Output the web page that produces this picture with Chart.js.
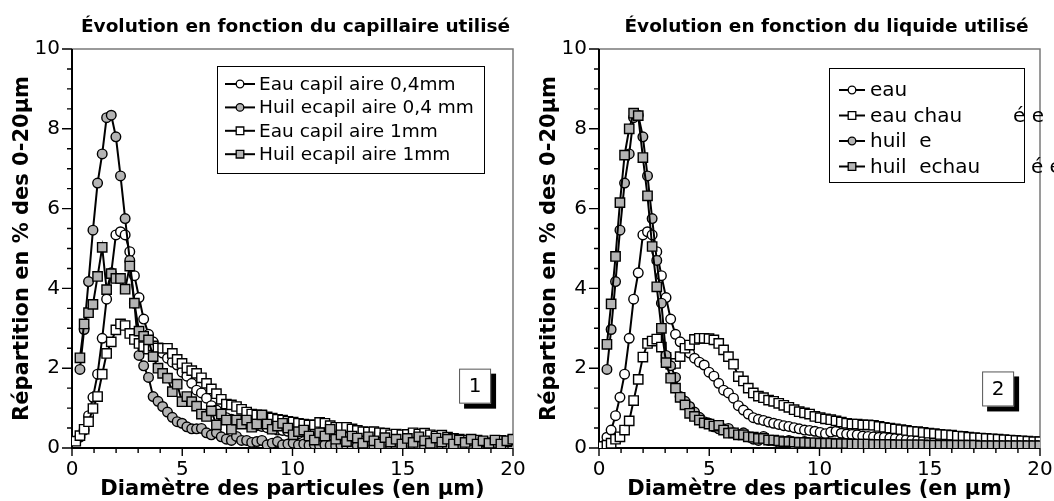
<!DOCTYPE html>
<html lang="fr">
<head>
    <meta charset="UTF-8">
    <meta name="viewport" content="width=device-width, initial-scale=1.0">
    <title>Répartition granulométrique</title>
    <style>
        body { margin: 0; background: #fff; }
        #app { display: flex; width: 1054px; height: 501px; }
        .chart { position: relative; width: 527px; height: 501px; }
    </style>
</head>
<body>
    <div id="app">
        <div class="chart"><canvas id="chart_capillaire"></canvas></div>
        <div class="chart"><canvas id="chart_liquide"></canvas></div>
    </div>

    <script src="https://cdn.jsdelivr.net/npm/chart.js"></script>

    <script>
        // classes de diamètre (µm), communes à toutes les mesures
        const diametres = [
            0.17, 0.36, 0.55, 0.75, 0.95, 1.16, 1.37, 1.57, 1.78, 1.99,
            2.2, 2.41, 2.62, 2.83, 3.04, 3.25, 3.47, 3.68, 3.9, 4.11,
            4.33, 4.55, 4.77, 4.99, 5.21, 5.43, 5.65, 5.87, 6.1, 6.32,
            6.55, 6.77, 7.0, 7.23, 7.46, 7.69, 7.92, 8.15, 8.38, 8.61,
            8.85, 9.08, 9.32, 9.55, 9.79, 10.03, 10.27, 10.51, 10.75, 10.99,
            11.23, 11.47, 11.71, 11.96, 12.2, 12.45, 12.7, 12.94, 13.19, 13.44,
            13.69, 13.94, 14.19, 14.45, 14.7, 14.96, 15.21, 15.47, 15.73, 15.99,
            16.25, 16.51, 16.77, 17.03, 17.3, 17.56, 17.83, 18.1, 18.37, 18.64,
            18.91, 19.18, 19.45, 19.72, 19.99
        ];

        // eau, capillaire 0,4 mm (aussi "eau" de la fig. 2)
        const eau_04 = [
            null, 0.27, 0.45, 0.81, 1.27, 1.85, 2.75, 3.73, 4.39, 5.34,
            5.42, 5.34, 4.92, 4.32, 3.77, 3.23, 2.85, 2.66, 2.5, 2.38,
            2.25, 2.15, 2.08, 1.9, 1.8, 1.62, 1.45, 1.38, 1.25, 1.06,
            0.95, 0.85, 0.76, 0.72, 0.69, 0.65, 0.62, 0.59, 0.56, 0.54,
            0.51, 0.48, 0.45, 0.44, 0.42, 0.39, 0.36, 0.4, 0.42, 0.37,
            0.35, 0.34, 0.33, 0.3, 0.29, 0.28, 0.27, 0.27, 0.25, 0.24,
            0.22, 0.21, 0.2, 0.19, 0.18, 0.17, 0.16, 0.15, 0.15, 0.14,
            0.13, 0.12, 0.12, 0.11, 0.1, 0.1, 0.09, 0.09, 0.08, 0.08,
            0.07, 0.07, 0.06, 0.06, 0.06
        ];

        // huile, capillaire 0,4 mm (aussi "huile" de la fig. 2)
        const huile_04 = [
            null, 1.97, 2.97, 4.17, 5.46, 6.64, 7.37, 8.28, 8.34, 7.8,
            6.82, 5.75, 4.7, 3.63, 2.32, 2.06, 1.77, 1.29, 1.17, 1.04,
            0.9, 0.77, 0.66, 0.62, 0.53, 0.48, 0.48, 0.49, 0.38, 0.33,
            0.38, 0.28, 0.22, 0.19, 0.29, 0.19, 0.19, 0.14, 0.16, 0.19,
            0.08, 0.12, 0.16, 0.08, 0.1, 0.12, 0.08, 0.1, 0.07, 0.09,
            0.06, 0.08, 0.07, 0.05, 0.07, 0.06, 0.05, 0.06, 0.04, 0.05,
            0.05, 0.04, 0.05, 0.04, 0.03, 0.04, 0.04, 0.03, 0.04, 0.03,
            0.03, 0.04, 0.03, 0.02, 0.03, 0.03, 0.02, 0.03, 0.02, 0.02,
            0.03, 0.02, 0.02, 0.02, 0.02
        ];

        // eau, capillaire 1 mm
        const eau_1mm = [
            0.17, 0.31, 0.47, 0.66, 0.99, 1.29, 1.85, 2.37, 2.66, 2.96,
            3.11, 3.07, 2.87, 2.72, 2.62, 2.54, 2.48, 2.56, 2.51, 2.5,
            2.5, 2.37, 2.22, 2.12, 2.01, 1.94, 1.87, 1.76, 1.62, 1.48,
            1.36, 1.22, 1.1, 1.08, 1.04, 0.97, 0.9, 0.85, 0.83, 0.82,
            0.78, 0.75, 0.72, 0.7, 0.67, 0.65, 0.62, 0.6, 0.58, 0.58,
            0.64, 0.62, 0.56, 0.52, 0.52, 0.52, 0.48, 0.44, 0.41, 0.4,
            0.41, 0.38, 0.37, 0.33, 0.35, 0.33, 0.34, 0.38, 0.35, 0.37,
            0.33, 0.3, 0.32, 0.27, 0.24, 0.22, 0.2, 0.19, 0.2, 0.15,
            0.12, 0.14, 0.19, 0.16, 0.2
        ];

        // huile, capillaire 1 mm
        const huile_1mm = [
            null, 2.26, 3.11, 3.39, 3.6, 4.3, 5.03, 3.97, 4.37, 4.25,
            4.25, 3.98, 4.56, 3.63, 2.93, 2.8, 2.71, 2.29, 2.0, 1.87,
            1.75, 1.41, 1.6, 1.16, 1.29, 1.16, 1.05, 0.85, 0.79, 0.93,
            0.58, 0.85, 0.7, 0.47, 0.7, 0.6, 0.7, 0.52, 0.6, 0.83,
            0.6, 0.47, 0.55, 0.62, 0.5, 0.33, 0.41, 0.45, 0.3, 0.2,
            0.38, 0.3, 0.47, 0.22, 0.33, 0.16, 0.3, 0.25, 0.12, 0.28,
            0.18, 0.1, 0.26, 0.15, 0.22, 0.1, 0.24, 0.14, 0.28, 0.18,
            0.12, 0.25, 0.15, 0.22, 0.1, 0.2, 0.14, 0.22, 0.1, 0.18,
            0.12, 0.2, 0.1, 0.18, 0.22
        ];

        // eau chauffée
        const eau_chauffee = [
            0.04, 0.07, 0.12, 0.22, 0.28, 0.45, 0.68, 1.19, 1.72, 2.28,
            2.62, 2.68, 2.73, 2.53, 2.27, 2.1, 2.12, 2.29, 2.5, 2.58,
            2.72, 2.75, 2.75, 2.74, 2.71, 2.62, 2.46, 2.29, 2.1, 1.79,
            1.68, 1.5, 1.38, 1.3, 1.26, 1.2, 1.17, 1.12, 1.07, 1.02,
            0.96, 0.91, 0.88, 0.85, 0.79, 0.76, 0.73, 0.71, 0.68, 0.65,
            0.62, 0.6, 0.6, 0.58, 0.58, 0.57, 0.54, 0.52, 0.5, 0.48,
            0.46, 0.44, 0.42, 0.41, 0.39, 0.37, 0.36, 0.34, 0.33, 0.32,
            0.3, 0.29, 0.27, 0.26, 0.25, 0.24, 0.23, 0.22, 0.21, 0.2,
            0.19, 0.18, 0.17, 0.16, 0.16
        ];

        // huile chauffée
        const huile_chauffee = [
            null, 2.6, 3.61, 4.8, 6.15, 7.34, 8.0, 8.39, 8.33, 7.28,
            6.32, 5.05, 4.04, 3.0, 2.14, 1.75, 1.5, 1.27, 1.08, 0.87,
            0.79, 0.7, 0.63, 0.6, 0.55, 0.57, 0.45, 0.37, 0.38, 0.33,
            0.33, 0.28, 0.27, 0.24, 0.24, 0.2, 0.2, 0.18, 0.16, 0.16,
            0.15, 0.14, 0.14, 0.13, 0.13, 0.12, 0.12, 0.12, 0.11, 0.11,
            0.11, 0.1, 0.1, 0.1, 0.1, 0.09, 0.09, 0.09, 0.09, 0.08,
            0.08, 0.08, 0.08, 0.08, 0.08, 0.07, 0.07, 0.07, 0.07, 0.07,
            0.07, 0.07, 0.07, 0.07, 0.06, 0.06, 0.06, 0.06, 0.06, 0.06,
            0.06, 0.06, 0.06, 0.06, 0.06
        ];

        const x_ticks = [0, 5, 10, 15, 20];
        const y_ticks = [0, 2, 4, 6, 8, 10];

        const FONT = 'DejaVu Sans';
        const GRIS = '#b4b4b4';

        function points(ys) {
            var pts = [];
            for (var i = 0; i < diametres.length; i++) {
                if (ys[i] !== null) pts.push({ x: diametres[i], y: ys[i] });
            }
            return pts;
        }

        function serie(label, ys, style, fill, order) {
            return {
                label: label,
                data: points(ys),
                borderColor: '#000',
                borderWidth: 2,
                pointStyle: style,
                pointRadius: style === 'rect' ? 6.6 : 4.8,
                pointHoverRadius: style === 'rect' ? 6.6 : 4.8,
                pointBackgroundColor: fill,
                pointBorderColor: '#000',
                pointBorderWidth: 1.4,
                tension: 0,
                order: order
            };
        }

        // petit marqueur pour la légende
        function marqueur(ctx, style, fill, x, y) {
            ctx.fillStyle = fill;
            ctx.strokeStyle = '#000';
            ctx.lineWidth = 1.3;
            ctx.beginPath();
            if (style === 'circle') ctx.arc(x, y, 3.8, 0, Math.PI * 2);
            else ctx.rect(x - 3.8, y - 3.8, 7.6, 7.6);
            ctx.fill();
            ctx.stroke();
        }

        // cadre, graduations, titre, légende et numéro de figure
        const habillage = {
            id: 'habillage',
            beforeDatasetsDraw(chart) {
                const { ctx, chartArea: a, scales: { x, y } } = chart;
                ctx.save();
                ctx.strokeStyle = '#7a7a7a';
                ctx.lineWidth = 1.5;
                ctx.beginPath();
                ctx.moveTo(a.left, a.top);
                ctx.lineTo(a.right, a.top);
                ctx.lineTo(a.right, a.bottom);
                ctx.stroke();

                ctx.strokeStyle = '#000';
                ctx.lineWidth = 2;
                ctx.beginPath();
                ctx.moveTo(a.left, a.top);
                ctx.lineTo(a.left, a.bottom);
                ctx.lineTo(a.right, a.bottom);
                ctx.stroke();

                ctx.lineWidth = 1.4;
                ctx.beginPath();
                for (let v = 0; v <= 20; v++) {
                    const px = x.getPixelForValue(v);
                    const len = v % 5 === 0 ? 8 : 5;
                    ctx.moveTo(px, a.bottom);
                    ctx.lineTo(px, a.bottom + len);
                }
                for (let v = 0; v <= 10; v += 0.5) {
                    const py = y.getPixelForValue(v);
                    const len = v % 2 === 0 ? 10 : 5;
                    ctx.moveTo(a.left, py);
                    ctx.lineTo(a.left - len, py);
                }
                ctx.stroke();
                ctx.restore();
            },
            afterDraw(chart, args, opts) {
                const { ctx, chartArea: a, scales: { x, y } } = chart;
                ctx.save();

                // titre
                ctx.fillStyle = '#000';
                ctx.font = 'bold 18.5px "' + FONT + '"';
                ctx.textAlign = 'center';
                ctx.textBaseline = 'middle';
                ctx.fillText(opts.titre, (a.left + a.right) / 2 + opts.titreDx, 27);

                // légende
                const L = opts.legende;
                ctx.fillStyle = '#fff';
                ctx.fillRect(L.x, L.y, L.w, L.h);
                ctx.strokeStyle = '#000';
                ctx.lineWidth = 1;
                ctx.strokeRect(L.x + 0.5, L.y + 0.5, L.w, L.h);
                ctx.font = L.taille + 'px "' + FONT + '"';
                ctx.textAlign = 'left';
                chart.data.datasets.forEach(function (ds, i) {
                    const ly = L.y + L.premier + i * L.pas;
                    ctx.strokeStyle = '#000';
                    ctx.lineWidth = 2;
                    ctx.beginPath();
                    ctx.moveTo(L.x + L.trait0, ly);
                    ctx.lineTo(L.x + L.trait1, ly);
                    ctx.stroke();
                    marqueur(ctx, ds.pointStyle, ds.pointBackgroundColor,
                        L.x + (L.trait0 + L.trait1) / 2, ly);
                    ctx.fillStyle = '#000';
                    ctx.fillText(ds.label, L.x + L.texte, ly + 1);
                });

                // numéro de figure, encadré avec ombre
                const cx = x.getPixelForValue(opts.numero.x);
                const cy = y.getPixelForValue(opts.numero.y);
                const w = 32, h = 35;
                ctx.fillStyle = '#000';
                ctx.fillRect(cx - w / 2 + 5, cy - h / 2 + 5, w, h);
                ctx.fillStyle = '#fff';
                ctx.fillRect(cx - w / 2, cy - h / 2, w, h);
                ctx.strokeStyle = '#555';
                ctx.lineWidth = 1;
                ctx.strokeRect(cx - w / 2 + 0.5, cy - h / 2 + 0.5, w - 1, h - 1);
                ctx.fillStyle = '#000';
                ctx.font = '20px "' + FONT + '"';
                ctx.textAlign = 'center';
                ctx.fillText(opts.numero.texte, cx, cy + 1);
                ctx.restore();
            }
        };

        function options(habillage_opts) {
            return {
                responsive: true,
                maintainAspectRatio: false,
                animation: false,
                events: [],
                layout: { padding: { top: 49, right: 14, left: 0, bottom: 0 } },
                plugins: {
                    legend: { display: false },
                    tooltip: { enabled: false },
                    habillage: habillage_opts
                },
                scales: {
                    x: {
                        type: 'linear',
                        min: 0,
                        max: 20,
                        afterFit: function (s) {
                            s.height = 53;
                            s.paddingLeft = 0;
                            s.paddingRight = 0;
                        },
                        afterBuildTicks: function (s) { s.ticks = x_ticks.map(v => ({ value: v })); },
                        grid: { display: false, drawTicks: false },
                        border: { display: false },
                        ticks: {
                            color: '#000',
                            padding: 10,
                            maxRotation: 0,
                            font: { family: FONT, size: 20 }
                        },
                        title: {
                            display: true,
                            text: 'Diamètre des particules (en µm)',
                            color: '#000',
                            padding: { top: 0, bottom: -1 },
                            font: { family: FONT, size: 21, weight: 'bold' }
                        }
                    },
                    y: {
                        min: 0,
                        max: 10,
                        afterFit: function (s) {
                            s.width = 72;
                            s.paddingTop = 0;
                            s.paddingBottom = 0;
                        },
                        afterBuildTicks: function (s) { s.ticks = y_ticks.map(v => ({ value: v })); },
                        grid: { display: false, drawTicks: false },
                        border: { display: false },
                        ticks: {
                            color: '#000',
                            padding: 12,
                            font: { family: FONT, size: 20 }
                        },
                        title: {
                            display: true,
                            text: 'Répartition en % des 0-20µm',
                            color: '#000',
                            padding: { top: 10, bottom: 0 },
                            font: { family: FONT, size: 21, weight: 'bold' }
                        }
                    }
                }
            };
        }

        new Chart(document.getElementById('chart_capillaire'), {
            type: 'line',
            data: {
                datasets: [
                    serie('Eau capil aire 0,4mm', eau_04, 'circle', '#fff', 4),
                    serie('Huil ecapil aire 0,4 mm', huile_04, 'circle', GRIS, 3),
                    serie('Eau capil aire 1mm', eau_1mm, 'rect', '#fff', 2),
                    serie('Huil ecapil aire 1mm', huile_1mm, 'rect', GRIS, 1)
                ]
            },
            options: options({
                titre: 'Évolution en fonction du capillaire utilisé',
                titreDx: 3,
                legende: { x: 217, y: 66, w: 267, h: 107, premier: 18, pas: 23.4,
                           trait0: 8, trait1: 38, texte: 42, taille: 18.5 },
                numero: { x: 18.28, y: 1.55, texte: '1' }
            }),
            plugins: [habillage]
        });

        new Chart(document.getElementById('chart_liquide'), {
            type: 'line',
            data: {
                datasets: [
                    serie('eau', eau_04, 'circle', '#fff', 4),
                    serie('eau chau        é e', eau_chauffee, 'rect', '#fff', 3),
                    serie('huil  e', huile_04, 'circle', GRIS, 2),
                    serie('huil  echau        é e', huile_chauffee, 'rect', GRIS, 1)
                ]
            },
            options: options({
                titre: 'Évolution en fonction du liquide utilisé',
                titreDx: 7,
                legende: { x: 302, y: 68, w: 195, h: 114, premier: 22, pas: 25.5,
                           trait0: 10, trait1: 36, texte: 41, taille: 20 },
                numero: { x: 18.1, y: 1.48, texte: '2' }
            }),
            plugins: [habillage]
        });
    </script>
</body>
</html>
